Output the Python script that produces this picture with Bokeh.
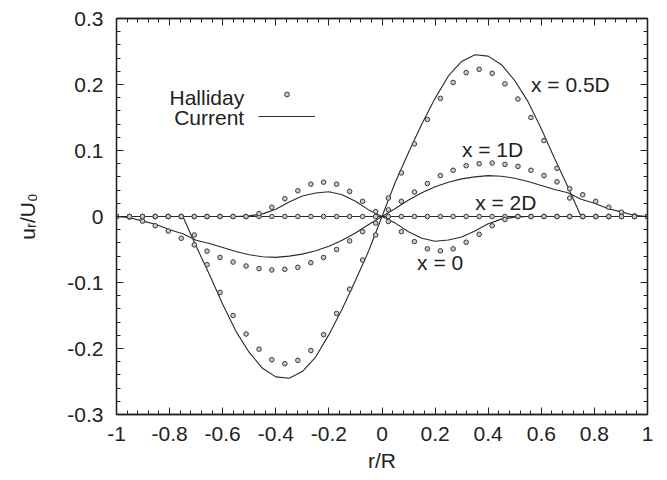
from bokeh.plotting import figure
from bokeh.models import (Range1d, FixedTicker, LinearAxis, CustomJSTickFormatter,
                          Label, Legend, LegendItem)
from bokeh.embed import file_html
from bokeh.resources import INLINE

FONT = "Liberation Sans"
INK = "#222222"

# ---------------- data ----------------
x_ticks = [-1.0, -0.8, -0.6, -0.4, -0.2, 0.0, 0.2, 0.4, 0.6, 0.8, 1.0]
x_minor = [round(-1 + 0.04 * i, 2) for i in range(51)]
y_ticks = [-0.3, -0.2, -0.1, 0.0, 0.1, 0.2, 0.3]
y_minor = [round(-0.3 + 0.02 * i, 2) for i in range(31)]

# Halliday (points), r/R positions
r_pts = [-1.0, -0.951, -0.902, -0.854, -0.805, -0.756, -0.707, -0.659, -0.610, -0.561,
         -0.512, -0.463, -0.415, -0.366, -0.317, -0.268, -0.220, -0.171, -0.122, -0.073,
         -0.024, 0.024, 0.073, 0.122, 0.171, 0.220, 0.268, 0.317, 0.366, 0.415,
         0.463, 0.512, 0.561, 0.610, 0.659, 0.707, 0.756, 0.805, 0.854, 0.902,
         0.951, 1.0]
hal_x0 = [0, 0, 0, 0, 0, 0, 0, 0, 0, 0,
          0, 0.0045, 0.014, 0.027, 0.039, 0.049, 0.052, 0.049, 0.038, 0.023,
          0.0076, -0.0076, -0.023, -0.038, -0.049, -0.052, -0.049, -0.039, -0.027, -0.014,
          -0.0045, 0, 0, 0, 0, 0, 0, 0, 0, 0,
          0, 0]
hal_05 = [0, 0, 0, 0, 0, 0, -0.028, -0.073, -0.115, -0.150,
          -0.178, -0.201, -0.217, -0.223, -0.218, -0.203, -0.179, -0.147, -0.110, -0.066,
          -0.028, 0.028, 0.066, 0.110, 0.147, 0.179, 0.203, 0.218, 0.223, 0.217,
          0.201, 0.178, 0.150, 0.115, 0.073, 0.028, 0, 0, 0, 0,
          0, 0]
hal_1 = [0, -0.001, -0.007, -0.014, -0.022, -0.033, -0.043, -0.0525, -0.062, -0.069,
         -0.075, -0.079, -0.081, -0.080, -0.077, -0.070, -0.062, -0.050, -0.037, -0.023,
         -0.010, 0.010, 0.023, 0.037, 0.050, 0.062, 0.070, 0.077, 0.080, 0.081,
         0.079, 0.076, 0.070, 0.062, 0.0525, 0.042, 0.033, 0.023, 0.014, 0.0066,
         0.001, 0]
hal_2 = [0] * 42

# Current (lines)
r_line = [-1.0, -0.95, -0.9, -0.85, -0.8, -0.75, -0.7, -0.65, -0.6, -0.55,
          -0.5, -0.45, -0.4, -0.35, -0.3, -0.25, -0.2, -0.15, -0.1, -0.05,
          0.0, 0.05, 0.1, 0.15, 0.2, 0.25, 0.3, 0.35, 0.4, 0.45,
          0.5, 0.55, 0.6, 0.65, 0.7, 0.75, 0.8, 0.85, 0.9, 0.95, 1.0]
cur_x0 = [0, 0, 0, 0, 0, 0, 0, 0, 0, 0,
          0.001, 0.004, 0.011, 0.022, 0.031, 0.0355, 0.0375, 0.033, 0.023, 0.010,
          0, -0.010, -0.023, -0.033, -0.0375, -0.0355, -0.031, -0.022, -0.011, -0.004,
          -0.001, 0, 0, 0, 0, 0, 0, 0, 0, 0, 0]
cur_05 = [0, 0, 0, 0, 0, 0, -0.045, -0.088, -0.133, -0.174,
          -0.206, -0.230, -0.243, -0.245, -0.235, -0.213, -0.179, -0.140, -0.097, -0.052,
          0, 0.052, 0.097, 0.140, 0.179, 0.213, 0.235, 0.245, 0.243, 0.230,
          0.206, 0.174, 0.133, 0.088, 0.045, 0, 0, 0, 0, 0, 0]
cur_1 = [0, -0.002, -0.007, -0.012, -0.020, -0.026, -0.036, -0.041, -0.047, -0.053,
         -0.058, -0.061, -0.062, -0.060, -0.057, -0.052, -0.045, -0.036, -0.025, -0.012,
         0, 0.012, 0.025, 0.036, 0.045, 0.052, 0.057, 0.060, 0.062, 0.061,
         0.058, 0.053, 0.047, 0.041, 0.036, 0.026, 0.020, 0.012, 0.007, 0.002, 0]
cur_2 = [0] * 41

curve_labels = ["x = 0.5D", "x = 1D", "x = 2D", "x = 0"]
label_r = [0.561, 0.301, 0.351, 0.132]
label_u = [0.200, 0.101, 0.021, -0.070]

# ---------------- figure ----------------
p = figure(width=667, height=480, output_backend="svg", toolbar_location=None,
           x_range=Range1d(-1, 1), y_range=Range1d(-0.3, 0.3),
           min_border_left=116, min_border_right=20, min_border_top=18, min_border_bottom=66,
           x_axis_location=None, y_axis_location=None)
p.background_fill_color = "white"
p.border_fill_color = "white"
p.outline_line_color = INK
p.outline_line_width = 1.3
p.xgrid.visible = False
p.ygrid.visible = False

fmt = CustomJSTickFormatter(code="return tick.toFixed(1).replace(/\\.0$/, '').replace(/^-0$/, '0');")
blank = CustomJSTickFormatter(code="return '';")


def style_axis(ax, labels=True):
    ax.axis_line_color = INK
    ax.axis_line_width = 1.3
    ax.major_tick_in = 7
    ax.major_tick_out = 0
    ax.minor_tick_in = 4
    ax.minor_tick_out = 0
    ax.major_tick_line_color = INK
    ax.minor_tick_line_color = INK
    ax.major_tick_line_width = 1
    ax.minor_tick_line_width = 1
    if labels:
        ax.formatter = fmt
        ax.major_label_text_font = FONT
        ax.major_label_text_font_size = "21px"
        ax.major_label_text_color = INK
        ax.major_label_standoff = 13
    else:
        ax.formatter = blank
        ax.major_label_text_font_size = "0px"
        ax.major_label_standoff = 0


xb = LinearAxis(ticker=FixedTicker(ticks=x_ticks, minor_ticks=x_minor))
xt = LinearAxis(ticker=FixedTicker(ticks=x_ticks, minor_ticks=x_minor))
yl = LinearAxis(ticker=FixedTicker(ticks=y_ticks, minor_ticks=y_minor))
yr = LinearAxis(ticker=FixedTicker(ticks=y_ticks, minor_ticks=y_minor))
style_axis(xb)
style_axis(yl)
style_axis(xt, labels=False)
style_axis(yr, labels=False)
xb.major_label_standoff = 12
for ax, lab, so in ((yl, "u\u1d63/U\u2080", 25), (xb, "r/R", 5)):
    ax.axis_label = lab
    ax.axis_label_text_font = FONT
    ax.axis_label_text_font_size = "21px"
    ax.axis_label_text_font_style = "normal"
    ax.axis_label_text_color = INK
    ax.axis_label_standoff = so
p.add_layout(xb, "below")
p.add_layout(yl, "left")
p.add_layout(xt, "above")
p.add_layout(yr, "right")

# Current lines
LINE_C = "#2a2a2a"
cur_r = None
for ys in (cur_2, cur_x0, cur_1, cur_05):
    cur_r = p.line(r_line, ys, line_color=LINE_C, line_width=1.1)

# Halliday points
hal_r = None
for ys in (hal_2, hal_x0, hal_1, hal_05):
    hal_r = p.scatter(r_pts, ys, marker="circle", size=4.6, line_color="#3a3a3a",
                      line_width=1.0, fill_color="#c8c8c8")

# curve annotations
for t, rx, uy in zip(curve_labels, label_r, label_u):
    p.add_layout(Label(x=rx, y=uy, text=t, text_font=FONT, text_font_size="21px",
                       text_color=INK, text_align="left", text_baseline="alphabetic"))

# legend: texts on the left, samples on the right
p.add_layout(Label(x=-0.519, y=0.180, text="Halliday", text_font=FONT, text_font_size="21px",
                   text_color=INK, text_align="right", text_baseline="alphabetic"))
p.add_layout(Label(x=-0.519, y=0.150, text="Current", text_font=FONT, text_font_size="21px",
                   text_color=INK, text_align="right", text_baseline="alphabetic"))
legend = Legend(items=[LegendItem(label=" ", renderers=[hal_r]),
                       LegendItem(label=" ", renderers=[cur_r])],
                location=(142, 292), orientation="vertical",
                glyph_width=57, glyph_height=12, spacing=10, padding=0, margin=0,
                label_standoff=0, label_width=0, label_height=0,
                label_text_font_size="1px",
                background_fill_alpha=0, border_line_alpha=0)
p.add_layout(legend)

open("out.html", "w").write(file_html(p, INLINE))
